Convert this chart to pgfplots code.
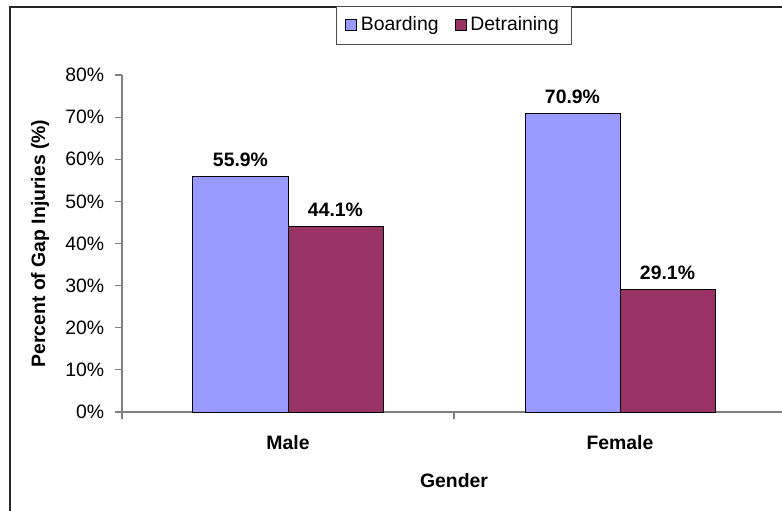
\documentclass[border=0pt]{standalone}
\usepackage{pgfplots}
\pgfplotsset{compat=1.18}
\usepackage{fontspec}
\setmainfont{Liberation Sans}

\definecolor{boarding}{HTML}{9999FF}
\definecolor{detraining}{HTML}{993366}
\definecolor{axisgray}{HTML}{808080}

\begin{document}
\begin{tikzpicture}
\fontsize{9.7}{11.5}\selectfont
% chart frame (runs off the right and bottom edge, as in the reference)
\draw[line width=1pt, black!85] (5pt,251.5pt) rectangle (420pt,-20pt);
\begin{axis}[
    at={(61pt,49pt)}, anchor=south west,
    scale only axis,
    width=332pt, height=168.5pt,
    xmin=-0.5, xmax=1.5,
    ymin=0, ymax=80,
    ybar=0pt, bar width=47.5pt,
    axis x line*=bottom, axis y line*=left,
    axis line style={axisgray, line width=0.6pt},
    tick style={axisgray, line width=0.6pt},
    tick align=outside,
    xtick={0,1}, xticklabels={Male,Female},
    major x tick style={draw=none},
    minor xtick={-0.5,0.5,1.5},
    minor tick length=3.5pt,
    major tick length=3.5pt,
    ytick={0,10,...,80},
    yticklabel={\pgfmathprintnumber{\tick}\%},
    /pgf/number format/assume math mode=true,
    yticklabel style={font=\fontsize{9.7}{11.5}\selectfont, black, xshift=-2pt},
    xticklabel style={font=\fontsize{9.7}{11.5}\selectfont\bfseries, black, yshift=-5pt},
    xlabel={Gender},
    ylabel={Percent of Gap Injuries (\%)},
    label style={font=\fontsize{9.7}{11.5}\selectfont\bfseries},
    xlabel style={at={(axis description cs:0.5,-0.2047)}, anchor=center},
    ylabel style={at={(axis description cs:-0.1235,0.5)}, anchor=center},
    nodes near coords={\pgfmathprintnumber[fixed,fixed zerofill,precision=1]{\pgfplotspointmeta}\%},
    nodes near coords style={font=\fontsize{9.7}{11.5}\selectfont\bfseries, black, yshift=1.5pt},
    legend columns=2,
    legend style={at={(0.5,1.1483)}, anchor=center, draw=black!70,
        font=\fontsize{9.7}{11.5}\selectfont, inner xsep=4.5pt, inner ysep=3.2pt,
        /tikz/every even column/.append style={column sep=6pt}},
    legend image code/.code={\draw[#1, draw=black, line width=0.4pt] (0pt,-2.75pt) rectangle (5.5pt,2.75pt);},
    clip=false,
]
\addplot[fill=boarding, draw=black, line width=0.5pt] coordinates {(0,55.9) (1,70.9)};
\addplot[fill=detraining, draw=black, line width=0.5pt] coordinates {(0,44.1) (1,29.1)};
\legend{Boarding, Detraining}
\end{axis}
\pgfresetboundingbox
\useasboundingbox (0,0) rectangle (391pt,255pt);
\end{tikzpicture}
\end{document}
